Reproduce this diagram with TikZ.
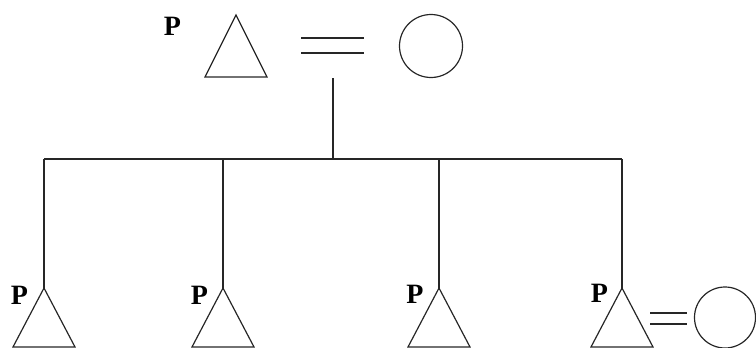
\documentclass[tikz,border=0pt]{standalone}
\usepackage{fontspec}
\setmainfont{Liberation Serif}
\begin{document}
\begin{tikzpicture}[x=1pt,y=-1pt,
  sym/.style={draw=black!85,line width=1.2pt},
  circ/.style={sym,circle,inner sep=0pt},
  plabel/.style={inner sep=0pt,font=\fontsize{28}{28}\selectfont\bfseries},
  lnk/.style={draw=black!85,line width=1.2pt}]
\useasboundingbox (0,0) rectangle (756,348);
% top couple
\coordinate (tapex) at (236,15);
\draw[sym,line join=miter] (tapex) -- ++(31,62) -- ++(-62,0) -- cycle;
\node[plabel] (tp) at (172.5,26) {P};
\node[circ,minimum size=63pt] (tw) at (431,46) {};
\coordinate (te1a) at (301,38); \coordinate (te1b) at (364,38);
\coordinate (te2a) at (301,53); \coordinate (te2b) at (364,53);
\draw[lnk] (te1a) -- (te1b);
\draw[lnk] (te2a) -- (te2b);
% sibship
\coordinate (mid) at (333,78);
\coordinate (hub) at (333,159);
\draw[lnk] (mid) -- (hub);
\foreach \i/\x in {1/44,2/223,3/439,4/622}{
  \coordinate (c\i) at (\x,288);
  \coordinate (j\i) at (\x,159);
  \draw[sym] (c\i) -- ++(31,59) -- ++(-62,0) -- cycle;
}
\draw[lnk] (j1) -- (j4);
\foreach \i in {1,2,3,4}{ \draw[lnk] (j\i) -- (c\i); }
\node[plabel] (p1) at (19.5,295) {P};
\node[plabel] (p2) at (199.5,295) {P};
\node[plabel] (p3) at (415,294) {P};
\node[plabel] (p4) at (599.5,293) {P};
% bottom-right spouse
\node[circ,minimum size=61pt] (bw) at (725,317.5) {};
\coordinate (be1a) at (650,313); \coordinate (be1b) at (687,313);
\coordinate (be2a) at (650,324); \coordinate (be2b) at (687,324);
\draw[lnk] (be1a) -- (be1b);
\draw[lnk] (be2a) -- (be2b);
\end{tikzpicture}
\end{document}
